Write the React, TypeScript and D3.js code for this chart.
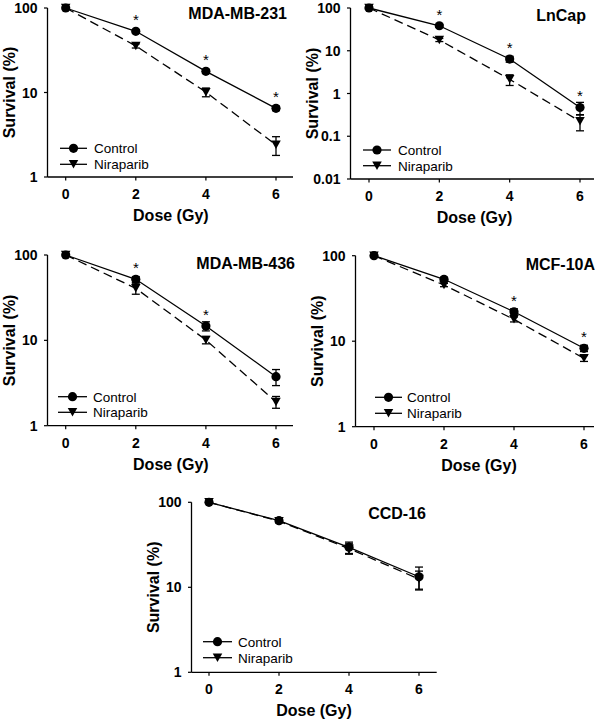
import React from 'react';
import * as d3 from 'd3';

const doses = [0, 2, 4, 6];
const seriesNames = ['Control', 'Niraparib'];
const xTickLabels = ['0', '2', '4', '6'];
const yTicksStd = [1, 10, 100];
const yTicksLnCap = [0.01, 0.1, 1, 10, 100];
const yTickLabelsStd = ['1', '10', '100'];
const yTickLabelsLnCap = ['0.01', '0.1', '1', '10', '100'];

const titles = ['MDA-MB-231', 'LnCap', 'MDA-MB-436', 'MCF-10A', 'CCD-16'];

const mb231Control = [100, 53, 17.8, 6.5];
const mb231ControlErr = [0, 2.5, 1, 0.4];
const mb231Nir = [100, 35.6, 10.1, 2.4];
const mb231NirErr = [0, 2, 1.2, 0.6];
const mb231Stars = [false, true, true, true];

const lncapControl = [100, 38.4, 6.4, 0.47];
const lncapControlErr = [0, 3, 1, 0.15];
const lncapNir = [100, 17.9, 2.14, 0.224];
const lncapNirErr = [0, 1.5, 0.6, 0.09];
const lncapStars = [false, true, true, true];

const mb436Control = [100, 51.9, 14.7, 3.75];
const mb436ControlErr = [0, 4, 1.8, 0.8];
const mb436Nir = [100, 40.7, 10.1, 1.9];
const mb436NirErr = [0, 6, 1, 0.3];
const mb436Stars = [false, true, true, false];

const mcfControl = [100, 53, 22.1, 8.26];
const mcfControlErr = [0, 3, 1.8, 0.7];
const mcfNir = [100, 45.4, 18, 6.3];
const mcfNirErr = [0, 2, 1.2, 0.5];
const mcfStars = [false, false, true, true];

const ccdControl = [100, 60.8, 29.5, 13.3];
const ccdControlErr = [0, 3, 4.5, 4];
const ccdNir = [100, 60, 28.5, 12.5];
const ccdNirErr = [0, 2.5, 4, 3];
const ccdStars = [false, false, false, false];

const FONT = '"Liberation Sans", Arial, sans-serif';

type Layout = {
  axisX: number; x0: number; x6: number; axisEnd: number;
  yTop: number; yBottom: number;
  titleRight: number; titleY: number;
  legX1: number; legX2: number; legY1: number; legY2: number; legText: number;
};

const layouts: Layout[] = [
  { axisX: 47.5, x0: 65.7, x6: 276, axisEnd: 293, yTop: 8, yBottom: 177, titleRight: 287, titleY: 19, legX1: 60, legX2: 87, legY1: 148.3, legY2: 164.3, legText: 94 },
  { axisX: 350.5, x0: 369, x6: 580, axisEnd: 594, yTop: 8, yBottom: 179, titleRight: 586, titleY: 21, legX1: 363, legX2: 391, legY1: 150, legY2: 165.7, legText: 398 },
  { axisX: 47.5, x0: 65.7, x6: 276, axisEnd: 293, yTop: 255, yBottom: 425.7, titleRight: 295, titleY: 268.5, legX1: 58, legX2: 87, legY1: 396.7, legY2: 412.3, legText: 93 },
  { axisX: 355.5, x0: 374, x6: 584, axisEnd: 594, yTop: 255.7, yBottom: 426.7, titleRight: 595, titleY: 270, legX1: 375, legX2: 402, legY1: 397.3, legY2: 413.3, legText: 407 },
  { axisX: 191.5, x0: 209, x6: 419, axisEnd: 436.7, yTop: 502.3, yBottom: 672.3, titleRight: 426, titleY: 518.5, legX1: 203, legX2: 232, legY1: 641.7, legY2: 657.7, legText: 238 },
];

const panelData = [
  { ctrl: mb231Control, ctrlErr: mb231ControlErr, nir: mb231Nir, nirErr: mb231NirErr, stars: mb231Stars, ticks: yTicksStd, tickLabels: yTickLabelsStd },
  { ctrl: lncapControl, ctrlErr: lncapControlErr, nir: lncapNir, nirErr: lncapNirErr, stars: lncapStars, ticks: yTicksLnCap, tickLabels: yTickLabelsLnCap },
  { ctrl: mb436Control, ctrlErr: mb436ControlErr, nir: mb436Nir, nirErr: mb436NirErr, stars: mb436Stars, ticks: yTicksStd, tickLabels: yTickLabelsStd },
  { ctrl: mcfControl, ctrlErr: mcfControlErr, nir: mcfNir, nirErr: mcfNirErr, stars: mcfStars, ticks: yTicksStd, tickLabels: yTickLabelsStd },
  { ctrl: ccdControl, ctrlErr: ccdControlErr, nir: ccdNir, nirErr: ccdNirErr, stars: ccdStars, ticks: yTicksStd, tickLabels: yTickLabelsStd },
];

const tri = (cx: number, cy: number, w = 9.5, h = 8.5) =>
  `M${cx - w / 2},${cy - h / 2}L${cx + w / 2},${cy - h / 2}L${cx},${cy + h / 2}Z`;

function Panel({ idx }: { idx: number }) {
  const L = layouts[idx];
  const D = panelData[idx];
  const x = d3.scaleLinear().domain([0, 6]).range([L.x0, L.x6]);
  const yMin = D.ticks[0];
  const yMax = D.ticks[D.ticks.length - 1];
  const y = d3.scaleLog().domain([yMin, yMax]).range([L.yBottom, L.yTop]);
  const line = d3.line<number>().x((_, i) => x(doses[i])).y((v) => y(v));
  const cap = 4;

  const errBars = (vals: number[], errs: number[]) =>
    vals.map((v, i) => {
      if (!errs[i]) return null;
      const cx = x(doses[i]);
      const y1 = y(v + errs[i]);
      const y2 = y(Math.max(v - errs[i], yMin));
      return (
        <g key={i} stroke="#000" strokeWidth={1.3}>
          <line x1={cx} x2={cx} y1={y1} y2={y2} />
          <line x1={cx - cap} x2={cx + cap} y1={y1} y2={y1} />
          <line x1={cx - cap} x2={cx + cap} y1={y2} y2={y2} />
        </g>
      );
    });

  const midX = (L.x0 + L.x6) / 2;
  const midY = (L.yTop + L.yBottom) / 2;

  return (
    <g>
      <line x1={L.axisX} x2={L.axisX} y1={L.yTop} y2={L.yBottom} stroke="#000" strokeWidth={1.3} />
      <line x1={L.axisX} x2={L.axisEnd} y1={L.yBottom} y2={L.yBottom} stroke="#000" strokeWidth={1.3} />
      {D.ticks.map((t, i) => (
        <g key={'yt' + i}>
          <line x1={L.axisX - 3.5} x2={L.axisX} y1={y(t)} y2={y(t)} stroke="#000" strokeWidth={1.2} />
          <text x={L.axisX - 10} y={y(t) + 5} textAnchor="end" fontFamily={FONT} fontWeight="bold" fontSize={14} fill="#000">
            {D.tickLabels[i]}
          </text>
        </g>
      ))}
      {doses.map((d, i) => (
        <g key={'xt' + i}>
          <line x1={x(d)} x2={x(d)} y1={L.yBottom} y2={L.yBottom + 3.5} stroke="#000" strokeWidth={1.2} />
          <text x={x(d)} y={L.yBottom + 22} textAnchor="middle" fontFamily={FONT} fontWeight="bold" fontSize={14} fill="#000">
            {xTickLabels[i]}
          </text>
        </g>
      ))}
      <text x={midX} y={L.yBottom + 44} textAnchor="middle" fontFamily={FONT} fontWeight="bold" fontSize={16} fill="#000">
        Dose (Gy)
      </text>
      <text
        transform={`translate(${L.axisX - 33},${midY}) rotate(-90)`}
        textAnchor="middle"
        fontFamily={FONT}
        fontWeight="bold"
        fontSize={16}
        fill="#000"
      >
        Survival (%)
      </text>
      <text x={L.titleRight} y={L.titleY} textAnchor="end" fontFamily={FONT} fontWeight="bold" fontSize={16} fill="#000">
        {titles[idx]}
      </text>

      <path d={line(D.nir) || ''} fill="none" stroke="#000" strokeWidth={1.3} strokeDasharray="9,5" />
      <path d={line(D.ctrl) || ''} fill="none" stroke="#000" strokeWidth={1.3} />
      {errBars(D.nir, D.nirErr)}
      {errBars(D.ctrl, D.ctrlErr)}
      {D.nir.map((v, i) => (
        <path key={'n' + i} d={tri(x(doses[i]), y(v))} fill="#000" />
      ))}
      {D.ctrl.map((v, i) => (
        <circle key={'c' + i} cx={x(doses[i])} cy={y(v)} r={4.6} fill="#000" />
      ))}
      {D.stars.map((s, i) => {
        if (!s) return null;
        const pt = y(D.ctrl[i]);
        const et = y(D.ctrl[i] + D.ctrlErr[i]);
        const sy = Math.min(pt - 14, et - 9);
        return (
          <text key={'s' + i} x={x(doses[i])} y={sy + 8} textAnchor="middle" fontFamily={FONT} fontSize={15} fill="#000">
            *
          </text>
        );
      })}

      <line x1={L.legX1} x2={L.legX2} y1={L.legY1} y2={L.legY1} stroke="#000" strokeWidth={1.3} />
      <circle cx={(L.legX1 + L.legX2) / 2} cy={L.legY1} r={4.6} fill="#000" />
      <text x={L.legText} y={L.legY1 + 4.8} fontFamily={FONT} fontSize={13.5} fill="#000">
        {seriesNames[0]}
      </text>
      <line x1={L.legX1} x2={L.legX2} y1={L.legY2} y2={L.legY2} stroke="#000" strokeWidth={1.3} />
      <path d={tri((L.legX1 + L.legX2) / 2, L.legY2)} fill="#000" />
      <text x={L.legText} y={L.legY2 + 4.8} fontFamily={FONT} fontSize={13.5} fill="#000">
        {seriesNames[1]}
      </text>
    </g>
  );
}

export default function App() {
  return (
    <svg
      width={603}
      height={719}
      style={{ position: 'absolute', left: 0, top: 0, background: '#fff' }}
    >
      <rect width={603} height={719} fill="#fff" />
      {layouts.map((_, i) => (
        <Panel key={i} idx={i} />
      ))}
    </svg>
  );
}
